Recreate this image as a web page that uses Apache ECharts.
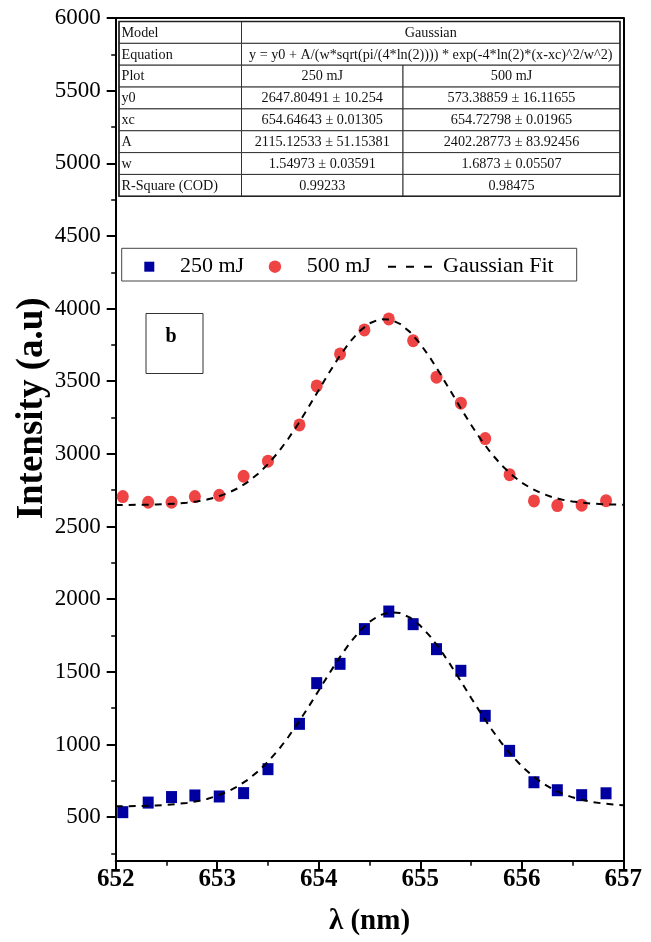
<!DOCTYPE html>
<html>
<head>
<meta charset="utf-8">
<script src="https://cdn.jsdelivr.net/npm/echarts@6/dist/echarts.min.js"></script>
<style>
  html, body { margin: 0; padding: 0; background: #fff; }
  #chart { width: 651px; height: 942px; }
</style>
</head>
<body>
<div id="chart"></div>
<script>
// Measured line profile: wavelength (nm) and intensity (a.u.) for both pulse energies
const wavelength = [652.07, 652.32, 652.55, 652.78, 653.02, 653.26, 653.50, 653.81, 653.98, 654.21,
                    654.45, 654.69, 654.93, 655.16, 655.40, 655.64, 655.88, 656.12, 656.35, 656.59, 656.83];
const intensity250 = [534, 600, 638, 649, 642, 665, 830, 1142, 1422, 1555,
                      1794, 1915, 1828, 1656, 1507, 1197, 956, 740, 685, 651, 664];
const intensity500 = [2706, 2667, 2667, 2706, 2715, 2846, 2950, 3199, 3468, 3688,
                      3853, 3929, 3779, 3528, 3349, 3105, 2857, 2676, 2644, 2647, 2678];

// Gaussian fit curves sampled every 0.1 nm
const fitWavelength = [652.0, 652.1, 652.2, 652.3, 652.4, 652.5, 652.6, 652.7, 652.8, 652.9,
                       653.0, 653.1, 653.2, 653.3, 653.4, 653.5, 653.6, 653.7, 653.8, 653.9,
                       654.0, 654.1, 654.2, 654.3, 654.4, 654.5, 654.6, 654.7, 654.8, 654.9,
                       655.0, 655.1, 655.2, 655.3, 655.4, 655.5, 655.6, 655.7, 655.8, 655.9,
                       656.0, 656.1, 656.2, 656.3, 656.4, 656.5, 656.6, 656.7, 656.8, 656.9, 657.0];
const fit250 = [574.4, 575.0, 576.1, 577.7, 580.2, 584.0, 589.7, 597.8, 609.2, 625.1,
                646.4, 674.6, 711.0, 756.9, 813.3, 881.3, 960.8, 1051.3, 1151.6, 1259.4,
                1371.6, 1484.3, 1592.8, 1692.2, 1777.7, 1844.9, 1889.5, 1909.8, 1904.1, 1872.8,
                1817.9, 1742.1, 1649.9, 1545.8, 1435.0, 1321.9, 1211.1, 1106.4, 1010.1, 924.3,
                850.0, 787.3, 735.5, 693.9, 661.3, 636.2, 617.5, 603.7, 593.8, 586.9, 582.2];
const fit500 = [2648.2, 2648.5, 2649.1, 2650.0, 2651.6, 2654.1, 2658.0, 2664.0, 2672.9, 2685.7,
                2704.0, 2729.0, 2762.5, 2806.0, 2861.3, 2929.3, 3010.4, 3104.1, 3209.0, 3322.2,
                3439.7, 3556.6, 3666.8, 3764.4, 3843.4, 3898.8, 3926.8, 3925.6, 3895.3, 3837.9,
                3757.2, 3658.4, 3547.5, 3430.3, 3312.8, 3200.3, 3096.2, 3003.3, 2923.3, 2856.5,
                2802.2, 2759.5, 2726.7, 2702.3, 2684.6, 2672.0, 2663.4, 2657.6, 2653.8, 2651.4, 2649.9];

// Axis ticks
const yMajorTicks = [500, 1000, 1500, 2000, 2500, 3000, 3500, 4000, 4500, 5000, 5500, 6000];
const yMinorTicks = [250, 750, 1250, 1750, 2250, 2750, 3250, 3750, 4250, 4750, 5250, 5750];

// Fit results table
const tableRows = [
  ['Model', 'Gaussian'],
  ['Equation', 'y = y0 + A/(w*sqrt(pi/(4*ln(2)))) * exp(-4*ln(2)*(x-xc)^2/w^2)'],
  ['Plot', '250 mJ', '500 mJ'],
  ['y0', '2647.80491 \u00b1 10.254', '573.38859 \u00b1 16.11655'],
  ['xc', '654.64643 \u00b1 0.01305', '654.72798 \u00b1 0.01965'],
  ['A', '2115.12533 \u00b1 51.15381', '2402.28773 \u00b1 83.92456'],
  ['w', '1.54973 \u00b1 0.03591', '1.6873 \u00b1 0.05507'],
  ['R-Square (COD)', '0.99233', '0.98475']
];
const panelLabel = 'b';

const SERIF = '"Liberation Serif", "Times New Roman", serif';

function pairs(xs, ys) { return xs.map((x, i) => [x, ys[i]]); }

// ---- table graphics ----
const tbl = { top: 21.5, rowH: 21.85, cols: [119, 241.5, 403, 620] };
const tableEls = [];
tableRows.forEach((row, r) => {
  const y = tbl.top + r * tbl.rowH;
  const c = tbl.cols;
  const cells = row.length === 2
    ? [[c[0], c[1], row[0], 'left'], [c[1], c[3], row[1], 'center']]
    : [[c[0], c[1], row[0], 'left'], [c[1], c[2], row[1], 'center'], [c[2], c[3], row[2], 'center']];
  cells.forEach(([x0, x1, text, align]) => {
    tableEls.push({
      type: 'rect', z: 10,
      shape: { x: x0, y: y, width: x1 - x0, height: tbl.rowH },
      style: { fill: '#fff', stroke: '#333', lineWidth: 1 }
    });
    tableEls.push({
      type: 'text', z: 11,
      x: align === 'left' ? x0 + 2.5 : (x0 + x1) / 2,
      y: y + tbl.rowH / 2 + 0.5,
      style: { text: text, fontFamily: SERIF, fontSize: 14.2, fill: '#111',
               align: align, verticalAlign: 'middle' }
    });
  });
});
tableEls.push({
  type: 'rect', z: 12,
  shape: { x: tbl.cols[0], y: tbl.top, width: tbl.cols[3] - tbl.cols[0], height: tbl.rowH * tableRows.length },
  style: { fill: 'none', stroke: '#222', lineWidth: 1.5 }
});

const legendText = { fontFamily: SERIF, fontSize: 22, color: '#000', lineHeight: 24 };
const legendTop = 254.7;

const chart = echarts.init(document.getElementById('chart'), null, { renderer: 'canvas' });
chart.setOption({
  backgroundColor: '#fff',
  animation: false,
  grid: { left: 115.7, right: 27.7, top: 18, bottom: 81.3, containLabel: false, outerBoundsMode: 'none' },
  legend: [
    { data: [{ name: '250 mJ', icon: 'rect' }], left: 144.3, top: legendTop, padding: 0,
      itemWidth: 10, itemHeight: 10, selectedMode: false,
      textStyle: Object.assign({}, legendText, { padding: [0, 0, 0, 20.7] }) },
    { data: [{ name: '500 mJ', icon: 'circle' }], left: 268.7, top: legendTop, padding: 0,
      itemWidth: 12.5, itemHeight: 12.5, selectedMode: false,
      textStyle: Object.assign({}, legendText, { padding: [0, 0, 0, 20.5] }) },
    { data: [{ name: 'Gaussian Fit', icon: 'path://M0,0h8v2h-8z M18,0h8v2h-8z M36,0h8v2h-8z' }],
      left: 388, top: legendTop, padding: 0, itemWidth: 44, itemHeight: 2,
      itemStyle: { color: '#000', borderWidth: 0 }, lineStyle: { width: 0 },
      textStyle: Object.assign({}, legendText, { padding: [0, 0, 0, 6] }), selectedMode: false }
  ],
  xAxis: [
    {
      type: 'value', min: 652, max: 657, interval: 1, position: 'bottom',
      axisLine: { show: true, onZero: false, lineStyle: { color: '#000', width: 2 } },
      axisTick: { show: true, length: 10, lineStyle: { color: '#000', width: 2 } },
      minorTick: { show: true, splitNumber: 2, length: 5, lineStyle: { color: '#000', width: 1.5 } },
      axisLabel: { margin: 6, fontFamily: SERIF, fontWeight: 'bold', fontSize: 25, color: '#000', lineHeight: 26 },
      splitLine: { show: false },
      name: '\u03bb (nm)', nameLocation: 'middle', nameGap: 46,
      nameTextStyle: { fontFamily: SERIF, fontWeight: 'bold', fontSize: 29, color: '#000', lineHeight: 30 }
    },
    {
      type: 'value', min: 652, max: 657, position: 'top',
      axisLine: { show: true, onZero: false, lineStyle: { color: '#000', width: 2 } },
      axisTick: { show: false }, axisLabel: { show: false }, splitLine: { show: false }
    }
  ],
  yAxis: [
    {
      type: 'value', min: 200, max: 6000, position: 'left',
      axisLine: { show: true, onZero: false, lineStyle: { color: '#000', width: 2 } },
      axisTick: { show: true, length: 9, customValues: yMajorTicks, lineStyle: { color: '#000', width: 2 } },
      axisLabel: { customValues: yMajorTicks, margin: 15, fontFamily: SERIF, fontSize: 23, color: '#000',
                   formatter: (v) => String(v) },
      splitLine: { show: false },
      name: 'Intensity (a.u)', nameLocation: 'middle', nameGap: 67, nameMoveOverlap: false,
      nameTextStyle: { fontFamily: SERIF, fontWeight: 'bold', fontSize: 37, color: '#000',
                       lineHeight: 32, padding: [0, 0, 0, 62] }
    },
    {
      type: 'value', min: 200, max: 6000, position: 'left',
      axisLine: { show: false },
      axisTick: { show: true, length: 4.5, customValues: yMinorTicks, lineStyle: { color: '#000', width: 1.5 } },
      axisLabel: { show: false }, splitLine: { show: false }
    },
    {
      type: 'value', min: 200, max: 6000, position: 'right',
      axisLine: { show: true, onZero: false, lineStyle: { color: '#000', width: 2 } },
      axisTick: { show: false }, axisLabel: { show: false }, splitLine: { show: false }
    }
  ],
  series: [
    {
      name: '250 mJ', type: 'scatter', symbol: 'rect', symbolSize: [11, 12],
      itemStyle: { color: '#0000A0', opacity: 1 }, data: pairs(wavelength, intensity250), z: 3
    },
    {
      name: '500 mJ', type: 'scatter', symbol: 'circle', symbolSize: [12, 13],
      itemStyle: { color: '#EF4444', opacity: 1 }, data: pairs(wavelength, intensity500), z: 3
    },
    {
      name: 'Gaussian Fit', type: 'line', showSymbol: false, symbol: 'none', z: 4,
      itemStyle: { color: '#000' },
      lineStyle: { color: '#000', width: 2, type: [7, 6] },
      data: pairs(fitWavelength, fit250)
    },
    {
      name: 'Gaussian Fit', type: 'line', showSymbol: false, symbol: 'none', z: 4,
      itemStyle: { color: '#000' },
      lineStyle: { color: '#000', width: 2, type: [7, 6] },
      data: pairs(fitWavelength, fit500)
    }
  ],
  graphic: {
    elements: [
      // legend frame
      { type: 'rect', z: 1, shape: { x: 121.7, y: 248.3, width: 455, height: 32.7 },
        style: { fill: 'none', stroke: '#444', lineWidth: 1 } },
      // panel label box
      { type: 'rect', z: 1, shape: { x: 146, y: 313.5, width: 57, height: 60 },
        style: { fill: 'none', stroke: '#333', lineWidth: 1 } },
      { type: 'text', z: 2, x: 171, y: 337,
        style: { text: panelLabel, fontFamily: SERIF, fontWeight: 'bold', fontSize: 20, fill: '#000',
                 align: 'center', verticalAlign: 'middle' } }
    ].concat(tableEls)
  }
});
</script>
</body>
</html>
